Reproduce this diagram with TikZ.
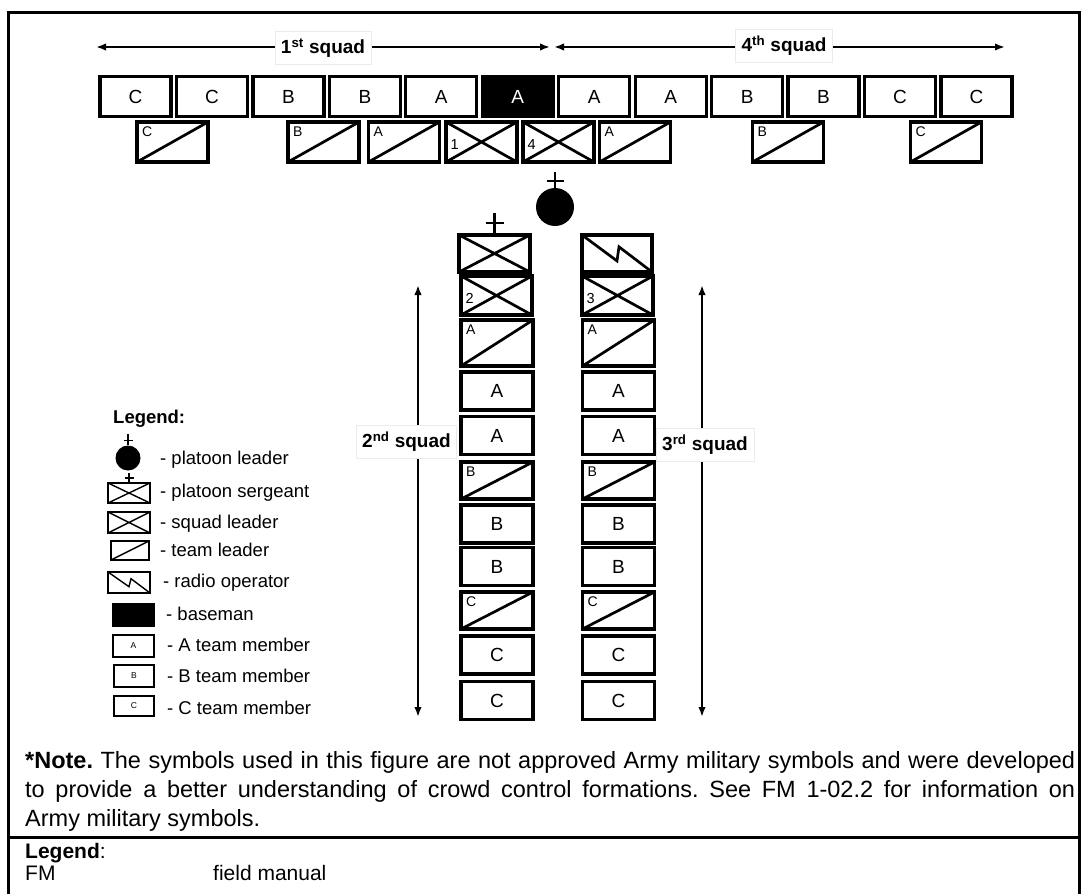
\documentclass[tikz,border=0pt]{standalone}
\usepackage{fontspec}
\setmainfont{Liberation Sans}
\usetikzlibrary{arrows.meta, calc}
\frenchspacing

\tikzset{
  member/.style={draw, line width=3.2pt, minimum width=71pt, minimum height=40pt,
    inner sep=0pt, outer sep=0pt, font=\fontsize{19}{19}\selectfont},
  baseman/.style={member, fill=black, text=white},
  slash/.style={path picture={\draw[line width=#1] (path picture bounding box.south west) -- (path picture bounding box.north east);}},
  slash/.default=2.7pt,
  cross/.style={path picture={\draw[line width=#1] (path picture bounding box.south west) -- (path picture bounding box.north east)
      (path picture bounding box.north west) -- (path picture bounding box.south east);}},
  cross/.default=2.7pt,
  zigzag/.style={path picture={\draw[line width=#1] (path picture bounding box.north west)
      -- ($(path picture bounding box.north)!.7!(path picture bounding box.south)$)
      -- ($(path picture bounding box.north)!.32!(path picture bounding box.south)+(2pt,0)$)
      -- (path picture bounding box.south east);}},
  zigzag/.default=2.7pt,
  teamlead/.style={member, slash, label={[anchor=north west, inner sep=5pt, font=\fontsize{14}{14}\selectfont]north west:#1}},
  squadlead/.style={member, cross, label={[anchor=west, inner sep=4.5pt, yshift=-3pt, font=\fontsize{14.5}{14.5}\selectfont]west:#1}},
  radioop/.style={member, zigzag},
  squadtag/.style={fill=white, draw=black!8, line width=0.6pt, inner xsep=6pt, minimum height=33pt,
    font=\fontsize{19}{19}\selectfont\bfseries},
  twoway/.style={line width=2.6pt, {Latex[length=10pt,width=7.5pt]}-{Latex[length=10pt,width=7.5pt]}},
  legbox/.style={draw, line width=2pt, minimum width=42pt, minimum height=21pt,
    inner sep=0pt, outer sep=0pt, font=\fontsize{8.5}{8.5}\selectfont},
  legtext/.style={anchor=west, inner sep=0pt, text height=13pt, text depth=4pt,
    font=\fontsize{18.5}{18.5}\selectfont},
}

\begin{document}
\begin{tikzpicture}[x=1pt, y=-1pt]
\useasboundingbox (0,0) rectangle (1082,894);
\clip (0,0) rectangle (1082,894);
\fill[white] (0,0) rectangle (1082,894);

% frame
\draw[line width=3pt] (8.5,900) |- (1079.5,12) -- (1079.5,900);
\draw[line width=3pt] (8.5,837) -- (1079.5,837);

% front rank (1st and 4th squads)
\foreach \sty/\lt [count=\i] in {member/C,member/C,member/B,member/B,member/A,baseman/A,
    member/A,member/A,member/B,member/B,member/C,member/C}
  \node[\sty] (front\i) at ({135.5+(\i-1)*76.45},96.5) {\lt};

% leaders behind the front rank
\foreach \sty/\lt/\xx [count=\i] in {teamlead/C/172.5, teamlead/B/323.5, teamlead/A/404,
    squadlead/1/481.5, squadlead/4/558.5, teamlead/A/635, teamlead/B/788, teamlead/C/946}
  \node[\sty=\lt] (rear\i) at (\xx,142) {};

% platoon leader
\node[circle, fill=black, minimum size=38pt, inner sep=0pt] (pltLdr) at (555,207) {};
\draw[line width=2.6pt] (pltLdr.north) -- ++(0,-16);
\draw[line width=2.6pt] ($(pltLdr.north)+(-8.5,-7)$) -- ++(17,0);

% columns (2nd and 3rd squads)
\node[member, cross, minimum height=37pt] (pltSgt) at (494.5,253.5) {};
\draw[line width=2.6pt] (pltSgt.north) -- ++(0,-22);
\draw[line width=2.6pt] ($(pltSgt.north)+(-9,-12)$) -- ++(18,0);
\node[radioop, minimum width=70pt, minimum height=37pt] (radio) at (617,253.5) {};
\node[squadlead=2, minimum height=39pt] (sqLdrTwo) at (496.5,295.5) {};
\node[squadlead=3, minimum height=39pt] (sqLdrThree) at (617.5,295.5) {};
\foreach \col/\xx in {Two/497, Three/618.5} {
  \foreach \lt/\yy/\hh in {A/343/46, B/480.5/37, C/610.5/37}
    \node[teamlead=\lt, minimum width=72pt, minimum height=\hh pt] (tl\col\lt) at (\xx,\yy) {};
  \foreach \lt/\yy [count=\k] in {A/391, A/435.5, B/524, B/566.5, C/655, C/700.5}
    \node[member, minimum width=72pt, minimum height=38pt] (mem\col\k) at (\xx,\yy) {\lt};
}

% squad arrows
\coordinate (oneWest) at (96,47);
\coordinate (oneEast) at (550,47);
\draw[twoway] (oneWest) -- (oneEast);
\node[squadtag] (oneTag) at (323,48) {1\textsuperscript{st} squad};
\coordinate (fourWest) at (554,47);
\coordinate (fourEast) at (1005,47);
\draw[twoway] (fourWest) -- (fourEast);
\node[squadtag] (fourTag) at (784,46) {4\textsuperscript{th} squad};
\coordinate (twoTop) at (418,285);
\coordinate (twoBot) at (418,717);
\draw[twoway] (twoTop) -- (twoBot);
\node[squadtag] (twoTag) at (406.5,442) {2\textsuperscript{nd} squad};
\coordinate (threeTop) at (702,285);
\coordinate (threeBot) at (702,717);
\draw[twoway] (threeTop) -- (threeBot);
\node[squadtag] (threeTag) at (705,445) {3\textsuperscript{rd} squad};

% legend
\node[legtext, font=\fontsize{18.5}{18.5}\selectfont\bfseries] (legHead) at (113,419) {Legend:};
\node[circle, fill=black, minimum size=25pt, inner sep=0pt] (legPL) at (128,458) {};
\draw[line width=1.6pt] (legPL.north) -- ++(0,-11);
\draw[line width=1.6pt] ($(legPL.north)+(-4.5,-5)$) -- ++(9,0);
\node[legtext] (legPLtxt) at (160,460) {- platoon leader};
\node[legbox, cross=1.4pt, minimum height=20pt] (legPSG) at (129,493) {};
\draw[line width=1.6pt] (legPSG.north) -- ++(0,-10);
\draw[line width=1.6pt] ($(legPSG.north)+(-4.5,-5)$) -- ++(9,0);
\node[legtext] (legPSGtxt) at (160,493) {- platoon sergeant};
\node[legbox, cross=1.4pt] (legSL) at (129,522.5) {};
\node[legtext] (legSLtxt) at (160,524) {- squad leader};
\node[legbox, slash=1.4pt, minimum width=38pt, minimum height=19pt] (legTL) at (130,550.5) {};
\node[legtext] (legTLtxt) at (160,552) {- team leader};
\node[legbox, zigzag=1.4pt] (legRTO) at (129,582.5) {};
\node[legtext] (legRTOtxt) at (163,583) {- radio operator};
\node[legbox, fill=black, minimum width=41pt, minimum height=22pt] (legBase) at (133.5,615) {};
\node[legtext] (legBasetxt) at (166,616) {- baseman};
\node[legbox, minimum width=41pt, minimum height=22pt] (legA) at (133.5,646) {A};
\node[legtext] (legAtxt) at (167,647) {- A team member};
\node[legbox, minimum width=40pt, minimum height=22pt] (legB) at (134,676) {B};
\node[legtext] (legBtxt) at (167,678) {- B team member};
\node[legbox, minimum width=40pt, minimum height=20pt] (legC) at (134,706) {C};
\node[legtext] (legCtxt) at (167,710) {- C team member};

% note and abbreviations
\node[anchor=north west, inner sep=0pt, text width=1050pt, align=justify,
      font=\fontsize{23.5}{29}\selectfont] (note) at (25,751)
  {\textbf{*Note.} The symbols used in this figure are not approved Army military symbols and were developed\linebreak
   to provide a better understanding of crowd control formations. See FM 1-02.2 for information on\linebreak
   Army military symbols.};
\node[legtext, font=\fontsize{21}{21}\selectfont] (abbrHead) at (25,854) {\textbf{Legend}:};
\node[legtext, font=\fontsize{21}{21}\selectfont] (abbrFM) at (25,876) {FM};
\node[legtext, font=\fontsize{21}{21}\selectfont] (abbrFMtxt) at (213,876) {field manual};
\end{tikzpicture}
\end{document}
